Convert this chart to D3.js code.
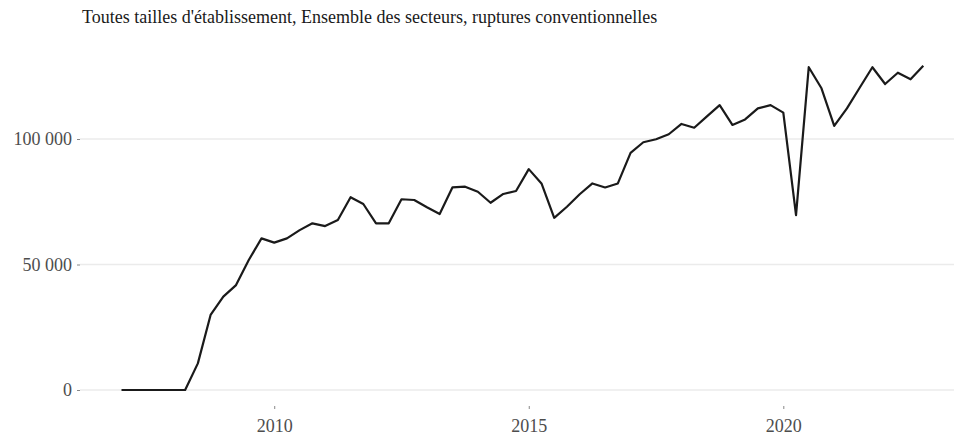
<!DOCTYPE html>
<html><head><meta charset="utf-8">
<script src="https://cdn.jsdelivr.net/npm/d3@7"></script>
<style>
html,body{margin:0;padding:0;background:#fff;}
svg{display:block;}
</style></head>
<body>
<svg id="chart" width="954" height="436"></svg>
<script>
const title = "Toutes tailles d'établissement, Ensemble des secteurs, ruptures conventionnelles";
const quarters = [
 "2007-T1","2007-T2","2007-T3","2007-T4",
 "2008-T1","2008-T2","2008-T3","2008-T4",
 "2009-T1","2009-T2","2009-T3","2009-T4",
 "2010-T1","2010-T2","2010-T3","2010-T4",
 "2011-T1","2011-T2","2011-T3","2011-T4",
 "2012-T1","2012-T2","2012-T3","2012-T4",
 "2013-T1","2013-T2","2013-T3","2013-T4",
 "2014-T1","2014-T2","2014-T3","2014-T4",
 "2015-T1","2015-T2","2015-T3","2015-T4",
 "2016-T1","2016-T2","2016-T3","2016-T4",
 "2017-T1","2017-T2","2017-T3","2017-T4",
 "2018-T1","2018-T2","2018-T3","2018-T4",
 "2019-T1","2019-T2","2019-T3","2019-T4",
 "2020-T1","2020-T2","2020-T3","2020-T4",
 "2021-T1","2021-T2","2021-T3","2021-T4",
 "2022-T1","2022-T2","2022-T3","2022-T4"
];
const ruptures = [
 0,0,0,0,
 0,0,10600,29900,
 37200,41800,51800,60400,
 58700,60400,63700,66400,
 65300,67700,76800,74100,
 66400,66400,76000,75700,
 72800,70100,80700,81000,
 79000,74600,78100,79300,
 88000,82300,68600,73000,
 78000,82300,80700,82300,
 94500,98700,99900,101900,
 106000,104500,109000,113500,
 105600,107800,112200,113500,
 110500,69700,128600,120200,
 105200,112200,120400,128600,
 121900,126400,123800,129200
];
const xTicks = [2010, 2015, 2020];
const yTicks = [0, 50000, 100000];

const toYear = q => { const [y, t] = q.split("-T"); return +y + (+t - 1) / 4; };
const data = quarters.map((q, i) => ({ t: toYear(q), v: ruptures[i] }));

const svg = d3.select("#chart");
const x = d3.scaleLinear().domain([2007, 2022.75]).range([121.5, 923.3]);
const y = d3.scaleLinear().domain([0, 100000]).range([390, 139]);
const fr = d3.formatLocale({decimal: ",", thousands: "\u00a0", grouping: [3], currency: ["", " €"]});
const fmt = fr.format(",d");
const serif = "'Liberation Serif', 'Times New Roman', serif";

// gridlines
svg.append("g").selectAll("line").data(yTicks).join("line")
  .attr("x1", 80).attr("x2", 954)
  .attr("y1", d => y(d)).attr("y2", d => y(d))
  .attr("stroke", "#ebebeb").attr("stroke-width", 1.6);

// y axis
const yAxis = svg.append("g").attr("transform", "translate(80,0)")
  .call(d3.axisLeft(y).tickValues(yTicks).tickFormat(fmt).tickSize(3).tickPadding(5));
yAxis.select(".domain").remove();
yAxis.selectAll(".tick line").attr("stroke", "#888");
yAxis.selectAll("text").attr("fill", "#4d4d4d")
  .style("font-family", serif).style("font-size", "18px");

// x axis
const xAxis = svg.append("g").attr("transform", "translate(0,406)")
  .call(d3.axisBottom(x).tickValues(xTicks).tickFormat(d3.format("d")).tickSize(3).tickPadding(10));
xAxis.select(".domain").remove();
xAxis.selectAll(".tick line").attr("stroke", "#888");
xAxis.selectAll("text").attr("fill", "#4d4d4d")
  .style("font-family", serif).style("font-size", "18px");

// line
const line = d3.line().x(d => x(d.t)).y(d => y(d.v));
svg.append("path").datum(data)
  .attr("d", line).attr("fill", "none")
  .attr("stroke", "#1a1a1a").attr("stroke-width", 2.2)
  .attr("stroke-linejoin", "round").attr("stroke-linecap", "butt");

// title
svg.append("text").attr("x", 82).attr("y", 23)
  .attr("fill", "#1a1a1a")
  .style("font-family", serif).style("font-size", "18px")
  .text(title);
</script>
</body></html>
